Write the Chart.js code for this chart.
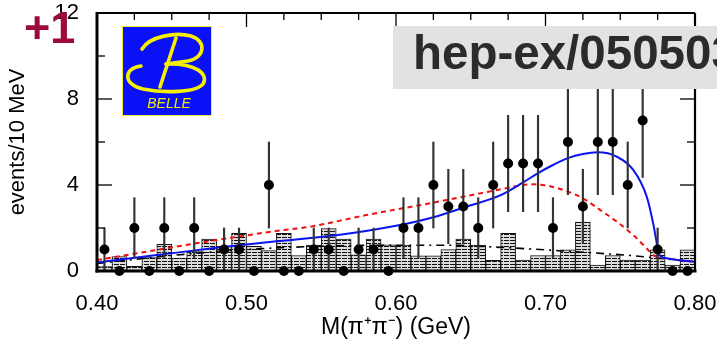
<!DOCTYPE html>
<html><head><meta charset="utf-8">
<script src="https://cdn.jsdelivr.net/npm/chart.js@4.4.1/dist/chart.umd.min.js"></script>
<style>html,body{margin:0;padding:0;background:#fff;overflow:hidden}#wrap{width:717px;height:349px;position:relative}</style>
</head><body><div id="wrap"><canvas id="c" width="717" height="349"></canvas></div>
<script>
// ---- data ----
const binCenters = [0.405,0.415,0.425,0.435,0.445,0.455,0.465,0.475,0.485,0.495,
                    0.505,0.515,0.525,0.535,0.545,0.555,0.565,0.575,0.585,0.595,
                    0.605,0.615,0.625,0.635,0.645,0.655,0.665,0.675,0.685,0.695,
                    0.705,0.715,0.725,0.735,0.745,0.755,0.765,0.775,0.785,0.795];
const counts = [1,0,2,0,2,0,2,0,1,1, 0,4,0,0,1,1,0,1,1,0, 2,2,4,3,3,2,4,5,5,5, 2,6,3,6,6,4,7,1,0,0];
const countErrors = [1,0,1.41,0,1.41,0,1.41,0,1,1, 0,2,0,0,1,1,0,1,1,0,
                     1.41,1.41,2,1.73,1.73,1.41,2,2.24,2.24,2.24, 1.41,2.45,1.73,2.45,2.45,2,2.65,1,0,0];
const bkgHist = [0.2,0.67,0.22,0.62,1.24,0.6,0.9,1.49,1.15,1.75, 1.15,0.95,1.75,0.72,1.2,1.97,1.48,0.75,1.49,1.22,
                 1.2,0.7,0.7,1.0,1.48,1.2,0.5,1.75,0.51,0.72, 0.72,0.99,2.28,0.27,0.72,0.51,0.51,0.98,0.27,0.99];
const blueX = [0.40,0.44,0.48,0.52,0.56,0.60,0.625,0.647,0.67,0.685,0.695,0.705,0.715,0.725,0.735,0.7476,0.7587,0.7677,0.772,0.7744,0.7755,0.781,0.79,0.80];
const blueY = [0.40,0.74,1.08,1.38,1.66,2.10,2.50,2.99,3.53,4.12,4.55,4.93,5.25,5.44,5.52,5.32,4.70,3.46,2.22,1.29,0.83,0.59,0.50,0.43];
const redX = [0.40,0.44,0.48,0.52,0.5425,0.58,0.625,0.67,0.683,0.692,0.703,0.714,0.725,0.7365,0.7476,0.7587,0.7677,0.772,0.781,0.80];
const redY = [0.51,0.98,1.44,1.86,2.06,2.60,3.18,3.80,3.98,4.03,3.94,3.72,3.38,2.84,2.30,1.67,1.05,0.74,0.59,0.43];
const bkgX = [0.40,0.45,0.50,0.55,0.60,0.63,0.67,0.714,0.7587,0.775,0.80];
const bkgY = [0.35,0.72,1.00,1.15,1.20,1.20,1.10,0.92,0.71,0.60,0.42];
const xTickLabels = ['0.40','0.50','0.60','0.70','0.80'];
const yTickLabels = ['0','4','8','12'];
const yMajorTicks = [0,4,8,12], yMinorTicks = [2,6,10];
const xMajorTicks = [0.5,0.6,0.7];
const xMinorTicks = [0.425,0.45,0.475,0.525,0.55,0.575,0.625,0.65,0.675,0.725,0.75,0.775];
const xTitle = 'M(\u03c0\u207a\u03c0\u207b) (GeV)';
const yTitle = 'events/10 MeV';
const paperId = 'hep-ex/050503';
const cornerMark = '+1';

// hatch pattern
const pc = document.createElement('canvas'); pc.width = 6; pc.height = 3;
const pctx = pc.getContext('2d');
pctx.fillStyle = '#dcdcdc'; pctx.fillRect(0,0,6,3);
pctx.fillStyle = '#111'; pctx.fillRect(0,0,5,1);
const hatch = pctx.createPattern(pc, 'repeat');

const FONT = "'Liberation Sans', Arial, sans-serif";

function ln(ctx,x1,y1,x2,y2){ctx.beginPath();ctx.moveTo(x1,y1);ctx.lineTo(x2,y2);ctx.stroke();}

const decor = {
  id:'decor',
  afterDraw(chart){
    const {ctx, chartArea:a, scales:{x,y}} = chart;
    ctx.save();
    ctx.strokeStyle = '#000'; ctx.lineWidth = 1.3;
    yMajorTicks.forEach(v=>{const p=y.getPixelForValue(v); ln(ctx,a.left,p,a.left+15,p); ln(ctx,a.right-15,p,a.right,p);});
    yMinorTicks.forEach(v=>{const p=y.getPixelForValue(v); ln(ctx,a.left,p,a.left+8,p); ln(ctx,a.right-8,p,a.right,p);});
    xMajorTicks.forEach(v=>{const p=x.getPixelForValue(v); ln(ctx,p,a.top,p,a.top+14);});
    xMinorTicks.forEach(v=>{const p=x.getPixelForValue(v); ln(ctx,p,a.top,p,a.top+7);});
    // frame
    ctx.lineWidth = 3; ln(ctx,a.left,a.top-1,a.left,a.bottom+1.5); ln(ctx,a.left-1.5,a.bottom,a.right+1.5,a.bottom);
    ctx.lineWidth = 2.2; ln(ctx,a.left,a.top,a.right,a.top); ln(ctx,a.right,a.top,a.right,a.bottom);
    // Belle logo
    ctx.fillStyle = '#0a10f8'; ctx.fillRect(122,26,90,90);
    ctx.strokeStyle = '#f4ee30'; ctx.lineWidth = 1; ctx.strokeRect(122.5,26.5,89,89);
    ctx.strokeStyle = '#f6f000'; ctx.lineWidth = 3.6; ctx.lineCap = 'round';
    ctx.beginPath(); ctx.moveTo(142,49); ctx.bezierCurveTo(150,36,176,32,191,36);
    ctx.bezierCurveTo(207,41,205,58,188,61); ctx.lineTo(166,64); ctx.stroke();
    ctx.beginPath(); ctx.moveTo(166,64); ctx.bezierCurveTo(196,63,209,74,203,84);
    ctx.bezierCurveTo(196,93,162,93,143,89); ctx.bezierCurveTo(122,84,124,68,141,66); ctx.stroke();
    ctx.beginPath(); ctx.moveTo(176,38); ctx.lineTo(160,87); ctx.stroke();
    ctx.fillStyle = '#f6f000'; ctx.font = "italic 14px " + FONT; ctx.textAlign = 'center'; ctx.textBaseline = 'alphabetic';
    ctx.fillText('BELLE',169,108);
    // paper id box
    ctx.fillStyle = '#e2e2e2'; ctx.fillRect(393,26,330,63);
    ctx.fillStyle = '#2b2b2b'; ctx.font = "bold 47.5px " + FONT; ctx.textAlign = 'left';
    ctx.fillText(paperId,413,69);
    // +1 mark
    ctx.fillStyle = '#9b0a3a'; ctx.font = "bold 45px " + FONT;
    ctx.fillText(cornerMark,24,43);
    ctx.restore();
  }
};

const tickFont = {family: FONT, size: 22};
new Chart(document.getElementById('c'), {
  type: 'bar',
  data: {
    datasets: [
      {type:'scatter', label:'data', data: binCenters.map((c,i)=>({x:c, y:counts[i]})),
       pointRadius:5, pointBackgroundColor:'#000', pointBorderWidth:0, showLine:false, clip:false, order:0},
      {type:'bar', label:'err', data: binCenters.map((c,i)=>countErrors[i]>0?({x:c, y:[counts[i]-countErrors[i], counts[i]+countErrors[i]]}):null).filter(d=>d),
       backgroundColor:'#333', barThickness:1.5, grouped:false, order:1},
      {type:'line', label:'fit', data: blueX.map((v,i)=>({x:v,y:blueY[i]})), borderColor:'#0a14f0', borderWidth:2,
       pointRadius:0, cubicInterpolationMode:'monotone', fill:false, order:2},
      {type:'line', label:'comp', data: redX.map((v,i)=>({x:v,y:redY[i]})), borderColor:'#f01010', borderWidth:2, borderDash:[5,4],
       pointRadius:0, cubicInterpolationMode:'monotone', fill:false, order:3},
      {type:'line', label:'bkg', data: bkgX.map((v,i)=>({x:v,y:bkgY[i]})), borderColor:'#000', borderWidth:1.6, borderDash:[8,5,2,5],
       pointRadius:0, cubicInterpolationMode:'monotone', fill:false, order:4},
      {type:'bar', label:'mc', data: binCenters.map((c,i)=>({x:c, y:bkgHist[i]})), backgroundColor:hatch, borderColor:'#111', borderWidth:1,
       barPercentage:1, categoryPercentage:1, grouped:false, order:5}
    ]
  },
  options: {
    responsive:false, animation:false, devicePixelRatio:1,
    layout:{padding:{left:0,right:22,top:13,bottom:0}},
    plugins:{legend:{display:false}, tooltip:{enabled:false}},
    scales:{
      x:{type:'linear', offset:false, min:0.4, max:0.8, grid:{display:false, offset:false}, border:{display:false},
         ticks:{stepSize:0.1, autoSkip:false, maxRotation:0, color:'#000', font:tickFont, padding:12,
                callback:(v)=>{const s=v.toFixed(2); return xTickLabels.includes(s)?s:'';}},
         title:{display:true, text:xTitle, color:'#000', font:{family:FONT,size:23}, padding:{top:8,bottom:8}},
         afterFit:(s)=>{s.height=78; s.paddingLeft=0; s.paddingRight=0;}},
      y:{min:0, max:12, grid:{display:false}, border:{display:false},
         ticks:{stepSize:4, color:'#000', font:tickFont, padding:10,
                callback:(v)=>{const s=String(v); return yTickLabels.includes(s)?s:'';}},
         title:{display:true, text:yTitle, color:'#000', font:{family:FONT,size:22}, padding:{top:5,bottom:5}},
         afterFit:(s)=>{s.width=97; s.paddingTop=0; s.paddingBottom=0;}}
    }
  },
  plugins:[decor]
});
</script></body></html>
